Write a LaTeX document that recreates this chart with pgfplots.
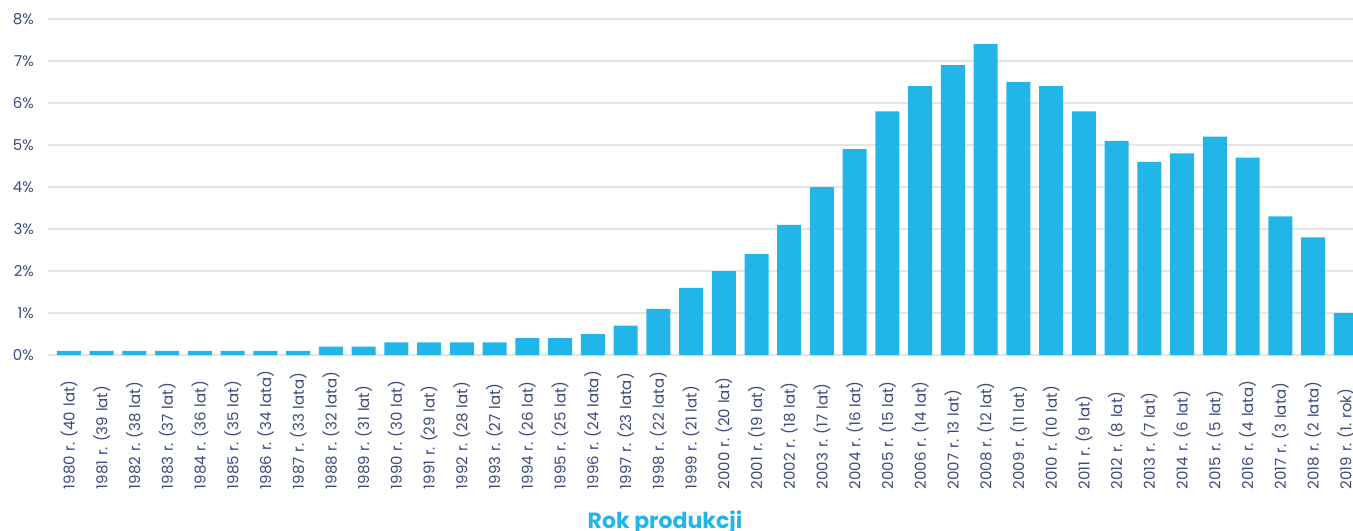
\documentclass[border=0pt]{standalone}
\usepackage{pgfplots}
\pgfplotsset{compat=1.18}
\usepackage{fontspec}
\setmainfont{Poppins}
\usetikzlibrary{calc}
\definecolor{barblue}{HTML}{22B5E8}
\definecolor{navy}{HTML}{3D4A7C}
\definecolor{gridgray}{HTML}{E5E5E5}
\frenchspacing
\begin{document}
\begin{tikzpicture}
\begin{axis}[
  scale only axis,
  width=1305bp, height=336bp,
  xmin=-0.641, xmax=39.22,
  ymin=0, ymax=8,
  ytick={0,1,2,3,4,5,6,7,8},
  yticklabels={0\%,1\%,2\%,3\%,4\%,5\%,6\%,7\%,8\%},
  xtick={0,...,39},
  xticklabels={{1980 r. (40 lat)},{1981 r. (39 lat)},{1982 r. (38 lat)},{1983 r. (37 lat)},{1984 r. (36 lat)},{1985 r. (35 lat)},{1986 r. (34 lata)},{1987 r. (33 lata)},{1988 r. (32 lata)},{1989 r. (31 lat)},{1990 r. (30 lat)},{1991 r. (29 lat)},{1992 r. (28 lat)},{1993 r. (27 lat)},{1994 r. (26 lat)},{1995 r. (25 lat)},{1996 r. (24 lata)},{1997 r. (23 lata)},{1998 r. (22 lata)},{1999 r. (21 lat)},{2000 r. (20 lat)},{2001 r. (19 lat)},{2002 r. (18 lat)},{2003 r. (17 lat)},{2004 r. (16 lat)},{2005 r. (15 lat)},{2006 r. (14 lat)},{2007 r. 13 lat)},{2008 r. (12 lat)},{2009 r. (11 lat)},{2010 r. (10 lat)},{2011 r. (9 lat)},{2012 r. (8 lat)},{2013 r. (7 lat)},{2014 r. (6 lat)},{2015 r. (5 lat)},{2016 r. (4 lata)},{2017 r. (3 lata)},{2018 r. (2 lata)},{2019 r. (1. rok)}},
  axis line style={draw=none},
  major tick length=0pt,
  ymajorgrids,
  grid style={gridgray, line width=1.5bp},
  yticklabel style={font=\fontsize{15bp}{18bp}\selectfont, text=navy, anchor=east, inner sep=0pt, xshift=-14bp},
  xticklabel style={font=\fontsize{15bp}{18bp}\selectfont\frenchspacing, text=navy, rotate=90, anchor=east, inner sep=0pt, text width=134bp, align=left},
  xlabel={Rok produkcji},
  xlabel style={font=\fontsize{22bp}{24bp}\selectfont\bfseries, text=barblue, at={(rel axis cs:0.4728,0)}, anchor=base, yshift=-173bp, inner sep=0pt},
  ybar, bar width=0.733,
  clip=true,
]
\addplot[fill=barblue, draw=none] coordinates {
(0,0.1) (1,0.1) (2,0.1) (3,0.1) (4,0.1) (5,0.1) (6,0.1) (7,0.1)
(8,0.2) (9,0.2) (10,0.3) (11,0.3) (12,0.3) (13,0.3) (14,0.4) (15,0.4)
(16,0.5) (17,0.7) (18,1.1) (19,1.6) (20,2.0) (21,2.4) (22,3.1) (23,4.0)
(24,4.9) (25,5.8) (26,6.4) (27,6.9) (28,7.4) (29,6.5) (30,6.4) (31,5.8)
(32,5.1) (33,4.6) (34,4.8) (35,5.2) (36,4.7) (37,3.3) (38,2.8) (39,1.0)
};
\end{axis}
\pgfresetboundingbox
\path[use as bounding box] ($(current axis.south west)+(-48bp,-176bp)$) rectangle ++(1353bp,531bp);
\end{tikzpicture}
\end{document}
